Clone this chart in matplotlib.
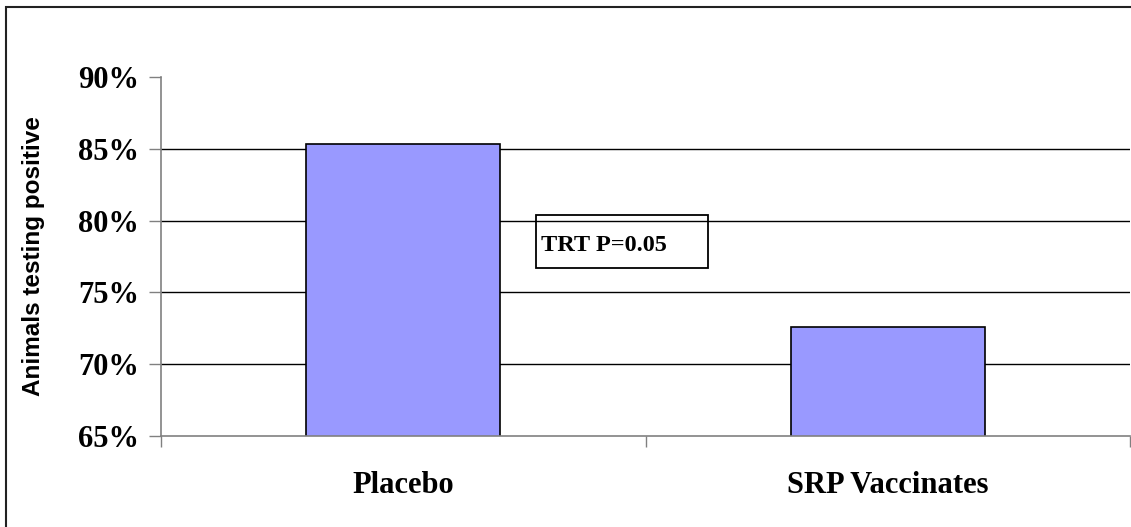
import matplotlib
matplotlib.use('Agg')
import matplotlib.pyplot as plt
from matplotlib.patches import Rectangle
from matplotlib.ticker import FuncFormatter

# data
groups = ['Placebo', 'SRP Vaccinates']
pct_positive = [85.3, 72.6]
y_ticks = [65, 70, 75, 80, 85, 90]
note = 'TRT P=0.05'

serif = ['Liberation Serif', 'DejaVu Serif']
sans = ['Liberation Sans', 'DejaVu Sans']

fig = plt.figure(figsize=(11.31, 5.27), dpi=100)
ax = fig.add_axes([0.1424, 0.1727, 0.8567, 0.6812])

# bars sit in the middle of each category slot
centers = [i + 0.5 for i in range(len(groups))]
ax.bar(centers, pct_positive, width=0.4, color='#9999FF', edgecolor='black',
       linewidth=1.2, zorder=3)

ax.set_xlim(0, len(groups))
ax.set_ylim(y_ticks[0], y_ticks[-1])

# black gridlines, none at the top or bottom
for y in y_ticks[1:-1]:
    ax.axhline(y, color='black', linewidth=1.0, zorder=1)

ax.set_yticks(y_ticks)
ax.yaxis.set_major_formatter(FuncFormatter(lambda v, p: f'{v:.0f}%'))
for lab in ax.get_yticklabels():
    lab.set_fontfamily(serif)
    lab.set_fontweight('bold')
    lab.set_fontsize(22)
ax.tick_params(axis='y', direction='out', length=9, width=1, color='#808080', pad=7)

# category boundaries get ticks, names go on minor ticks
ax.set_xticks(range(len(groups) + 1))
ax.set_xticklabels([''] * (len(groups) + 1))
ax.tick_params(axis='x', which='major', direction='out', length=8, width=1, color='#808080')
ax.set_xticks(centers, minor=True)
ax.set_xticklabels(groups, minor=True, fontfamily=serif, fontweight='bold', fontsize=22)
ax.tick_params(axis='x', which='minor', length=0, pad=25)

for side in ['top', 'right']:
    ax.spines[side].set_visible(False)
for side in ['left', 'bottom']:
    ax.spines[side].set_color('#808080')
    ax.spines[side].set_linewidth(1.2)
    ax.spines[side].set_zorder(4)

ax.set_ylabel('Animals testing positive', fontfamily=sans, fontweight='bold', fontsize=17.5)
ax.yaxis.set_label_coords(-0.12, 0.50)

# p-value note in its box
ax.add_patch(Rectangle((0.774, 76.7), 0.355, 3.69, fill=False, edgecolor='black',
                       linewidth=1.3, clip_on=False, zorder=5))
ax.text(0.785, 78.3, note, fontfamily=serif, fontweight='bold', fontsize=17.5,
        ha='left', va='center', zorder=6)

# outer frame of the chart area (right and bottom edges fall outside the image)
fig.patches.append(Rectangle((0.0053, -0.1), 1.2, 1.0867, transform=fig.transFigure,
                             fill=False, edgecolor='#222222', linewidth=1.5))

fig.savefig('out.png', dpi=100)
